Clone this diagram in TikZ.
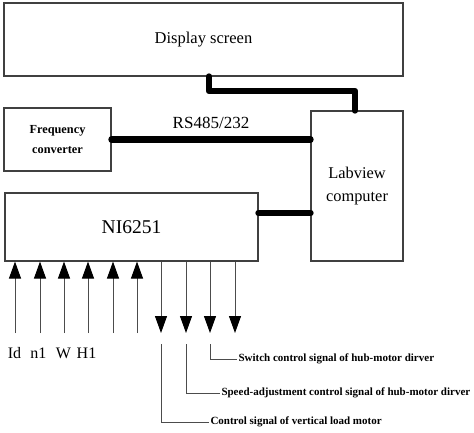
\documentclass[tikz,border=0pt]{standalone}
\usepackage{fontspec}
\setmainfont{Liberation Serif}
\usetikzlibrary{arrows.meta}
\usetikzlibrary{positioning}

\begin{document}
\begin{tikzpicture}[x=1pt,y=-1pt]
\useasboundingbox (0,0) rectangle (474,432);

\begin{scope}[every node/.style={rectangle,draw=black!75,line width=1.1pt,inner sep=0pt}]
    \node[minimum width=399pt,minimum height=73pt,font=\fontsize{16.5}{20}\selectfont] (DS) at (203.5,39.5) {Display screen};
    \node[minimum width=107pt,minimum height=63pt,align=center,font=\fontsize{12.3}{20}\selectfont\bfseries] (FC) at (57.5,139.5) {Frequency\\converter};
    \node[minimum width=92pt,minimum height=150pt,align=center,font=\fontsize{16.4}{23}\selectfont] (LC) at (357,186) {Labview\\computer};
    \node[minimum width=253pt,minimum height=68pt,font=\fontsize{19.5}{22}\selectfont] (NI) at (131.5,227) {NI6251};
\end{scope}

\begin{scope}[every path/.style={line width=6.5pt,line join=round,line cap=round}]
    \coordinate (k1) at (209,91);
    \coordinate (k2) at (355,91);
    \draw (DS.south -| k1) -- (k1) -- (k2) -- (LC.north -| k2);
    \path (FC.east) edge[draw] node[above=4pt,font=\fontsize{17}{20}\selectfont] (RS) {RS485/232} (FC.east -| LC.west);
    \draw ([yshift=14pt]NI.east) -- ([yshift=14pt]NI.east -| LC.west);
\end{scope}

\begin{scope}[>={Triangle[black,width=12pt,length=17pt]},
              every path/.style={draw=black!70,line width=1pt}]
    % inputs
    \coordinate (i1) at (15,333);
    \coordinate (i2) at (40,333);
    \coordinate (i3) at (64,333);
    \coordinate (i4) at (88,333);
    \coordinate (i5) at (113,333);
    \coordinate (i6) at (137,333);
    \draw[->] (i1) -- (i1 |- NI.south);
    \draw[->] (i2) -- (i2 |- NI.south);
    \draw[->] (i3) -- (i3 |- NI.south);
    \draw[->] (i4) -- (i4 |- NI.south);
    \draw[->] (i5) -- (i5 |- NI.south);
    \draw[->] (i6) -- (i6 |- NI.south);
    % outputs
    \coordinate (o1) at (161,333);
    \coordinate (o2) at (186,333);
    \coordinate (o3) at (210,333);
    \coordinate (o4) at (235,333);
    \draw[->] (o1 |- NI.south) -- (o1);
    \draw[->] (o2 |- NI.south) -- (o2);
    \draw[->] (o3 |- NI.south) -- (o3);
    \draw[->] (o4 |- NI.south) -- (o4);
\end{scope}

\begin{scope}[every node/.style={font=\fontsize{16}{18}\selectfont,inner sep=0pt}]
    \node (Id) at (14.5,353) {Id};
    \node (n1) at (38.5,353) {n1};
    \node (W) at (63.5,353) {W};
    \node (H1) at (86.5,353) {H1};
\end{scope}

\begin{scope}[every node/.style={anchor=west,inner sep=1pt,font=\fontsize{11}{13}\selectfont\bfseries},
              every path/.style={draw=black!70,line width=1pt}]
    \node (SW) at (237,359) {Switch control signal of hub-motor dirver};
    \node (SA) at (220,393) {Speed-adjustment control signal of hub-motor dirver};
    \node (VL) at (209,422) {Control signal of vertical load motor};
    \draw (210,344) |- (SW.west);
    \draw (186,344) |- (SA.west);
    \draw (161,344) |- (VL.west);
\end{scope}
\end{tikzpicture}
\end{document}
